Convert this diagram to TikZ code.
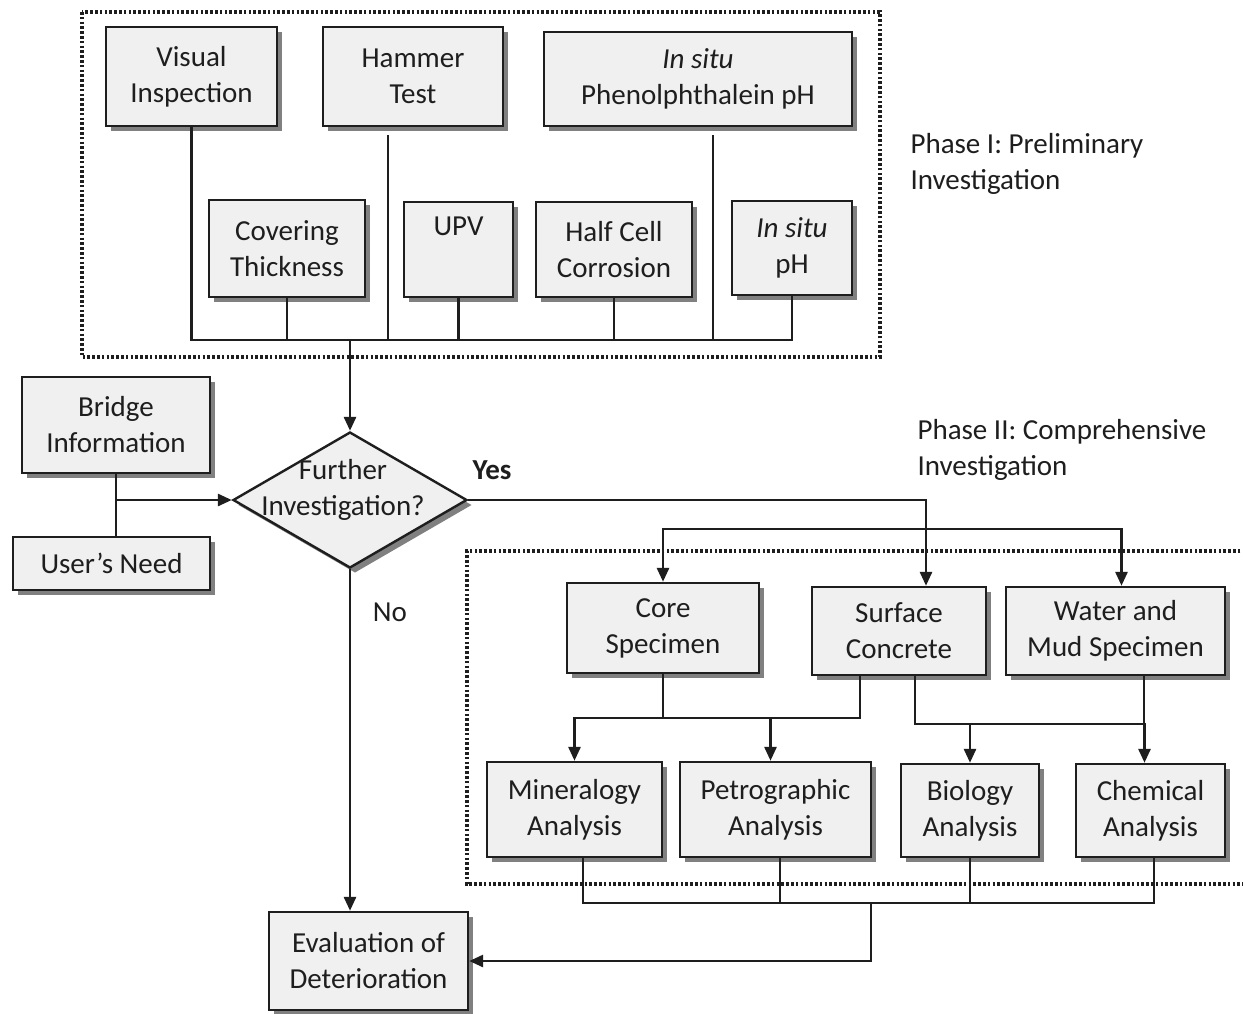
\documentclass[tikz,border=0pt]{standalone}
\usepackage{fontspec}
\setmainfont{Carlito}
\usetikzlibrary{arrows.meta,shapes.geometric,shadows,calc}
\definecolor{boxfill}{HTML}{F0F0F0}
\definecolor{ink}{HTML}{1E1E1E}
\tikzset{
  stepbox/.style={draw=ink, line width=2.4pt, fill=boxfill, inner sep=0pt, align=center,
    drop shadow={shadow xshift=5pt, shadow yshift=-5pt, fill=black!50, opacity=1}},
  conn/.style={draw=ink, line width=2.8pt},
  arr/.style={conn, -{Triangle[length=14pt,width=12pt]}},
  phase/.style={draw=ink, line width=3.2pt, dash pattern=on 2.6pt off 2.2pt},
  lbl/.style={align=left, anchor=west},
}
\begin{document}
\begin{tikzpicture}[x=1pt,y=-1pt, font=\fontsize{29}{36}\selectfont, text=ink]
\useasboundingbox[fill=white] (0,0) rectangle (1243,1013);

% phase frames
\draw[phase] (82,12) rectangle (880,357);
\draw[phase] (1250,551) -- (467,551) -- (467,884) -- (1250,884);

% Phase I tests
\node[stepbox, minimum width=171pt, minimum height=99pt] (vis) at (191.5,76.5) {Visual\\Inspection};
\node[stepbox, minimum width=180pt, minimum height=99pt] (ham) at (413,76.5) {Hammer\\Test};
\node[stepbox, minimum width=308pt, minimum height=94pt] (phe) at (698,79) {\textit{In situ}\\Phenolphthalein pH};
\node[stepbox, minimum width=156pt, minimum height=97pt] (cov) at (287,248.5) {Covering\\Thickness};
\node[stepbox, minimum width=109pt, minimum height=95pt, align=center] (upv) at (458.5,249.5) {UPV\\\strut};
\node[stepbox, minimum width=156pt, minimum height=95pt] (hcc) at (614,249.5) {Half Cell\\Corrosion};
\node[stepbox, minimum width=120pt, minimum height=94pt] (ish) at (792,248) {\textit{In situ}\\pH};

% inputs and decision
\node[stepbox, minimum width=188pt, minimum height=96pt] (bri) at (116,425) {Bridge\\Information};
\node[stepbox, minimum width=197pt, minimum height=53pt] (usr) at (111.5,563.5) {User’s Need};
\node[diamond, draw=ink, line width=2.4pt, fill=boxfill, inner sep=0pt, aspect=1.72,
  minimum width=234pt, minimum height=136pt,
  drop shadow={shadow xshift=5pt, shadow yshift=-5pt, fill=black!50, opacity=1}] (dia) at (350,500) {};
\node[align=center] (diatext) at (343,490) {Further\\Investigation?};

% Phase II specimens and analyses
\node[stepbox, minimum width=192pt, minimum height=90pt] (core) at (663,628) {Core\\Specimen};
\node[stepbox, minimum width=174pt, minimum height=88pt] (surf) at (899,631) {Surface\\Concrete};
\node[stepbox, minimum width=219pt, minimum height=88pt] (wat) at (1115.5,631) {Water and\\Mud Specimen};
\node[stepbox, minimum width=175pt, minimum height=95pt] (min) at (574.5,809.5) {Mineralogy\\Analysis};
\node[stepbox, minimum width=191pt, minimum height=95pt] (pet) at (775.5,809.5) {Petrographic\\Analysis};
\node[stepbox, minimum width=138pt, minimum height=93pt] (bio) at (970,810.5) {Biology\\Analysis};
\node[stepbox, minimum width=149pt, minimum height=93pt] (che) at (1150.5,810.5) {Chemical\\Analysis};
\node[stepbox, minimum width=199pt, minimum height=98pt] (eva) at (368.5,961) {Evaluation of\\Deterioration};

% labels
\node[lbl] (ph1) at (907,164) {Phase I: Preliminary\\Investigation};
\node[lbl] (ph2) at (914,450) {Phase II: Comprehensive\\Investigation};
\node[font=\fontsize{29}{36}\selectfont\bfseries] (yes) at (492,470) {Yes};
\node (no) at (390,612) {No};

% Phase I collector bus
\coordinate (busI) at (350,340);
\draw[conn] (vis.south) |- (ish.south |- busI) -- (ish.south);
\draw[conn] (cov.south) -- (cov.south |- busI);
\draw[conn] ([xshift=-25pt,yshift=-8pt]ham.south) -- ([xshift=-25pt]ham.south |- busI);
\draw[conn] (upv.south) -- (upv.south |- busI);
\draw[conn] (hcc.south) -- (hcc.south |- busI);
\draw[conn] ([xshift=15pt,yshift=-8pt]phe.south) -- ([xshift=15pt]phe.south |- busI);
\draw[arr] (busI) -- (dia.north);

% inputs to decision
\draw[conn] (bri.south) -- (bri.south |- usr.north);
\draw[arr] (bri.south |- dia.west) -- (dia.west);

% Yes branch
\draw[arr] (dia.east) -| ([xshift=27pt]surf.north);
\coordinate (jII) at (926,529);
\draw[arr] (jII) -| (core.north);
\draw[arr] (jII) -| ([xshift=6pt]wat.north);

% specimens to analyses
\coordinate (hA) at (0,718);
\coordinate (hB) at (0,724);
\draw[arr] ([xshift=-39pt]surf.south) |- (min.north |- hA) -- (min.north);
\draw[conn] (core.south) -- (core.south |- hA);
\draw[arr] ([xshift=-5pt]pet.north |- hA) -- ([xshift=-5pt]pet.north);
\draw[arr] ([xshift=16pt]surf.south) |- ([xshift=-6pt]che.north |- hB) -- ([xshift=-6pt]che.north);
\draw[conn] ([xshift=28.5pt]wat.south) -- ([xshift=28.5pt]wat.south |- hB);
\draw[arr] (bio.north |- hB) -- (bio.north);

% analyses to evaluation
\coordinate (hC) at (0,903);
\coordinate (jC) at (871,903);
\draw[conn] ([xshift=8.5pt]min.south) |- ([xshift=3.5pt]che.south |- hC) -- ([xshift=3.5pt]che.south);
\draw[conn] ([xshift=4.5pt]pet.south) -- ([xshift=4.5pt]pet.south |- hC);
\draw[conn] (bio.south) -- (bio.south |- hC);
\draw[arr] (jC) |- (eva.east);

% No branch
\draw[arr] (dia.south) -- (dia.south |- eva.north);
\end{tikzpicture}
\end{document}
